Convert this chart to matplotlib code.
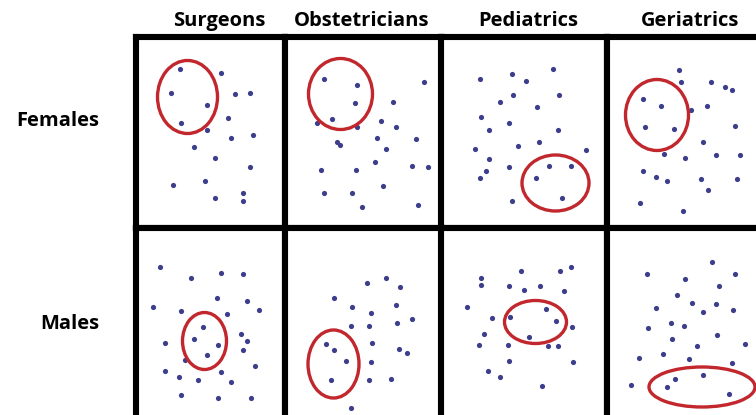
import matplotlib.pyplot as plt
from matplotlib.patches import Ellipse

# column / row labels
specialties = ["Surgeons", "Obstetricians", "Pediatrics", "Geriatrics"]
sexes = ["Females", "Males"]

# dot positions inside each panel (pixels from the panel's top-left corner)
f_surgeons_x = [44, 85, 35, 99, 114, 71, 92, 45, 71, 95, 117, 58, 79, 114, 37, 69, 79, 107, 107]
f_surgeons_y = [32, 36, 56, 57, 56, 68, 81, 86, 93, 101, 98, 110, 121, 130, 148, 144, 161, 156, 164]

f_obstet_x = [39, 72, 139, 70, 108, 47, 32, 96, 72, 111, 52, 55, 92, 131, 101, 90, 127, 143, 36, 71, 98, 39, 67, 77, 133]
f_obstet_y = [42, 48, 45, 66, 65, 82, 86, 84, 90, 90, 105, 108, 101, 102, 112, 125, 129, 130, 133, 133, 149, 156, 156, 170, 168]

f_pediat_x = [111, 39, 70, 84, 71, 117, 58, 95, 40, 67, 48, 116, 97, 76, 34, 144, 48, 67, 45, 39, 107, 129, 94, 70, 120]
f_pediat_y = [32, 42, 37, 44, 58, 58, 65, 70, 80, 86, 93, 93, 105, 109, 112, 113, 122, 130, 134, 141, 129, 129, 141, 164, 161]

f_geriat_x = [72, 74, 104, 118, 125, 36, 54, 84, 100, 38, 67, 128, 96, 57, 78, 109, 133, 36, 49, 60, 94, 130, 101, 33, 76]
f_geriat_y = [33, 45, 45, 50, 53, 62, 69, 73, 69, 90, 92, 89, 105, 117, 121, 118, 118, 134, 140, 144, 142, 142, 153, 166, 174]

m_surgeons_x = [24, 55, 85, 107, 81, 111, 17, 45, 91, 123, 67, 58, 105, 111, 29, 82, 107, 71, 49, 119, 29, 43, 85, 62, 95, 45, 82, 115]
m_surgeons_y = [39, 50, 45, 46, 70, 73, 79, 83, 86, 82, 99, 111, 106, 113, 115, 117, 122, 127, 132, 138, 143, 149, 144, 152, 154, 167, 170, 170]

m_obstet_x = [101, 82, 115, 49, 67, 111, 86, 127, 66, 84, 112, 41, 49, 87, 114, 122, 61, 86, 46, 84, 106, 66]
m_obstet_y = [50, 55, 59, 70, 79, 77, 85, 91, 98, 98, 95, 116, 122, 115, 121, 125, 133, 134, 152, 152, 151, 180]

m_pediat_x = [129, 79, 118, 40, 40, 67, 82, 98, 122, 26, 104, 51, 68, 114, 130, 43, 87, 38, 66, 106, 116, 67, 131, 47, 58, 100]
m_pediat_y = [39, 43, 43, 50, 57, 58, 62, 58, 63, 79, 81, 90, 89, 93, 99, 106, 109, 117, 117, 118, 118, 133, 134, 143, 149, 158]

m_geriat_x = [105, 40, 128, 78, 112, 70, 85, 109, 49, 96, 126, 64, 77, 41, 110, 65, 90, 138, 56, 32, 82, 125, 96, 68, 60, 24, 122]
m_geriat_y = [34, 46, 46, 51, 58, 67, 75, 76, 80, 84, 82, 95, 98, 100, 107, 111, 118, 116, 126, 130, 131, 135, 147, 151, 159, 157, 166]

# red circles: centre x, centre y, width, height (same panel pixels)
f_circles = [(52, 60, 60, 73), (56, 57, 64, 71), (114, 146, 67, 56), (50, 78, 63, 71)]
m_circles = [(69, 113, 44, 57), (49, 136, 51, 68), (94, 94, 62, 43), (95, 159, 106, 40)]

female_x = [f_surgeons_x, f_obstet_x, f_pediat_x, f_geriat_x]
female_y = [f_surgeons_y, f_obstet_y, f_pediat_y, f_geriat_y]
male_x = [m_surgeons_x, m_obstet_x, m_pediat_x, m_geriat_x]
male_y = [m_surgeons_y, m_obstet_y, m_pediat_y, m_geriat_y]

W, H = 756, 415
col_x0 = [135.5, 284.5, 441.5, 607]
col_w = [149, 157, 165.5, 160]
row_y0 = [37, 228]
row_h = [191, 191]

dot_color = "#3c3e8c"
ring_color = "#c1272d"
plt.rcParams["font.family"] = ["Open Sans", "DejaVu Sans"]

fig = plt.figure(figsize=(W / 100, H / 100), dpi=100)

for r, (xs_row, ys_row, circles) in enumerate([(female_x, female_y, f_circles),
                                                (male_x, male_y, m_circles)]):
    for c in range(4):
        x0, w = col_x0[c], col_w[c]
        y0, h = row_y0[r], row_h[r]
        ax = fig.add_axes([x0 / W, 1 - (y0 + h) / H, w / W, h / H])
        ax.set_xlim(0, w)
        ax.set_ylim(h, 0)
        ax.set_xticks([])
        ax.set_yticks([])
        for sp in ax.spines.values():
            sp.set_linewidth(4.4)
            sp.set_color("black")
            sp.set_capstyle("projecting")
        ax.scatter(xs_row[c], ys_row[c], s=14, color=dot_color, marker="o",
                   linewidths=0, zorder=3)
        cx, cy, ew, eh = circles[c]
        ax.add_patch(Ellipse((cx, cy), ew, eh, fill=False, edgecolor=ring_color,
                             linewidth=2.4, zorder=4))

header_x = [219, 362, 528, 690]
for name, hx in zip(specialties, header_x):
    fig.text(hx / W, 1 - 21 / H, name, ha="center", va="center",
             fontsize=14.5, fontweight="bold", color="black")

label_y = [121, 324]
for name, ly in zip(sexes, label_y):
    fig.text(99 / W, 1 - ly / H, name, ha="right", va="center",
             fontsize=14.5, fontweight="bold", color="black")

fig.savefig("out.png", dpi=100)
